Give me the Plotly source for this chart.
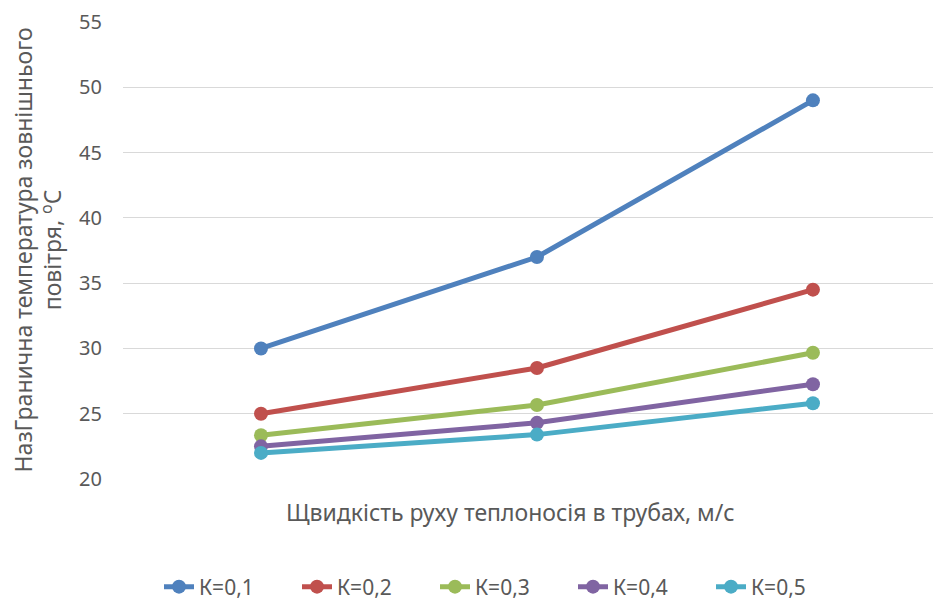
import plotly.graph_objects as go

# Categories (x positions; no tick labels are shown on the reference)
categories = ["1", "2", "3"]

series_names = ["К=0,1", "К=0,2", "К=0,3", "К=0,4", "К=0,5"]
k01 = [30.0, 37.0, 49.0]
k02 = [25.0, 28.5, 34.5]
k03 = [23.35, 25.67, 29.67]
k04 = [22.5, 24.3, 27.26]
k05 = [22.0, 23.4, 25.8]
series_values = [k01, k02, k03, k04, k05]
colors = ["#4F81BD", "#C0504D", "#9BBB59", "#8064A2", "#4BACC6"]

y_ticks = [20, 25, 30, 35, 40, 45, 50, 55]

FONT = "Noto Sans"
TXT = "#595959"

W, H = 941, 599
L, T, PW, PH = 115, 14, 818, 457

fig = go.Figure()
for name, vals, col in zip(series_names, series_values, colors):
    fig.add_trace(go.Scatter(
        x=categories, y=vals, name=name, mode="lines+markers",
        line=dict(color=col, width=5),
        marker=dict(color=col, size=14),
    ))

fig.update_layout(
    width=W, height=H,
    margin=dict(l=L, r=W - L - PW, t=T, b=H - T - PH, autoexpand=False),
    paper_bgcolor="white", plot_bgcolor="white",
    font=dict(family=FONT, color=TXT, size=20),
    showlegend=True,
    legend=dict(orientation="h", xref="container", x=151 / W, xanchor="left",
                yref="container", y=1 - 579 / H, yanchor="middle",
                font=dict(size=21, color=TXT), entrywidth=93, entrywidthmode="pixels",
                itemclick=False),
    xaxis=dict(type="category", range=[-0.5, 2.464], showgrid=False, showticklabels=False,
               zeroline=False, showline=False, ticks=""),
    yaxis=dict(range=[20, 55], tickvals=y_ticks, showgrid=True, gridcolor="#D9D9D9",
               gridwidth=1.3, zeroline=False, showline=False, ticks="",
               ticklabelstandoff=20, tickfont=dict(size=20, color=TXT)),
    annotations=[
        dict(text="Щвидкість руху теплоносія в трубах, м/с", xref="paper", yref="paper",
             x=(502 - L) / PW, y=-(504 - (T + PH)) / PH, xanchor="center", yanchor="middle",
             showarrow=False, font=dict(size=23, color=TXT)),
        dict(text="НазГранична температура зовнішнього<br>повітря, <sup>o</sup>C",
             xref="paper", yref="paper", x=(29 - L) / PW, y=0.5,
             xanchor="center", yanchor="middle", textangle=-90, showarrow=False,
             font=dict(size=23, color=TXT)),
    ],
)

fig.write_html("out.html")
